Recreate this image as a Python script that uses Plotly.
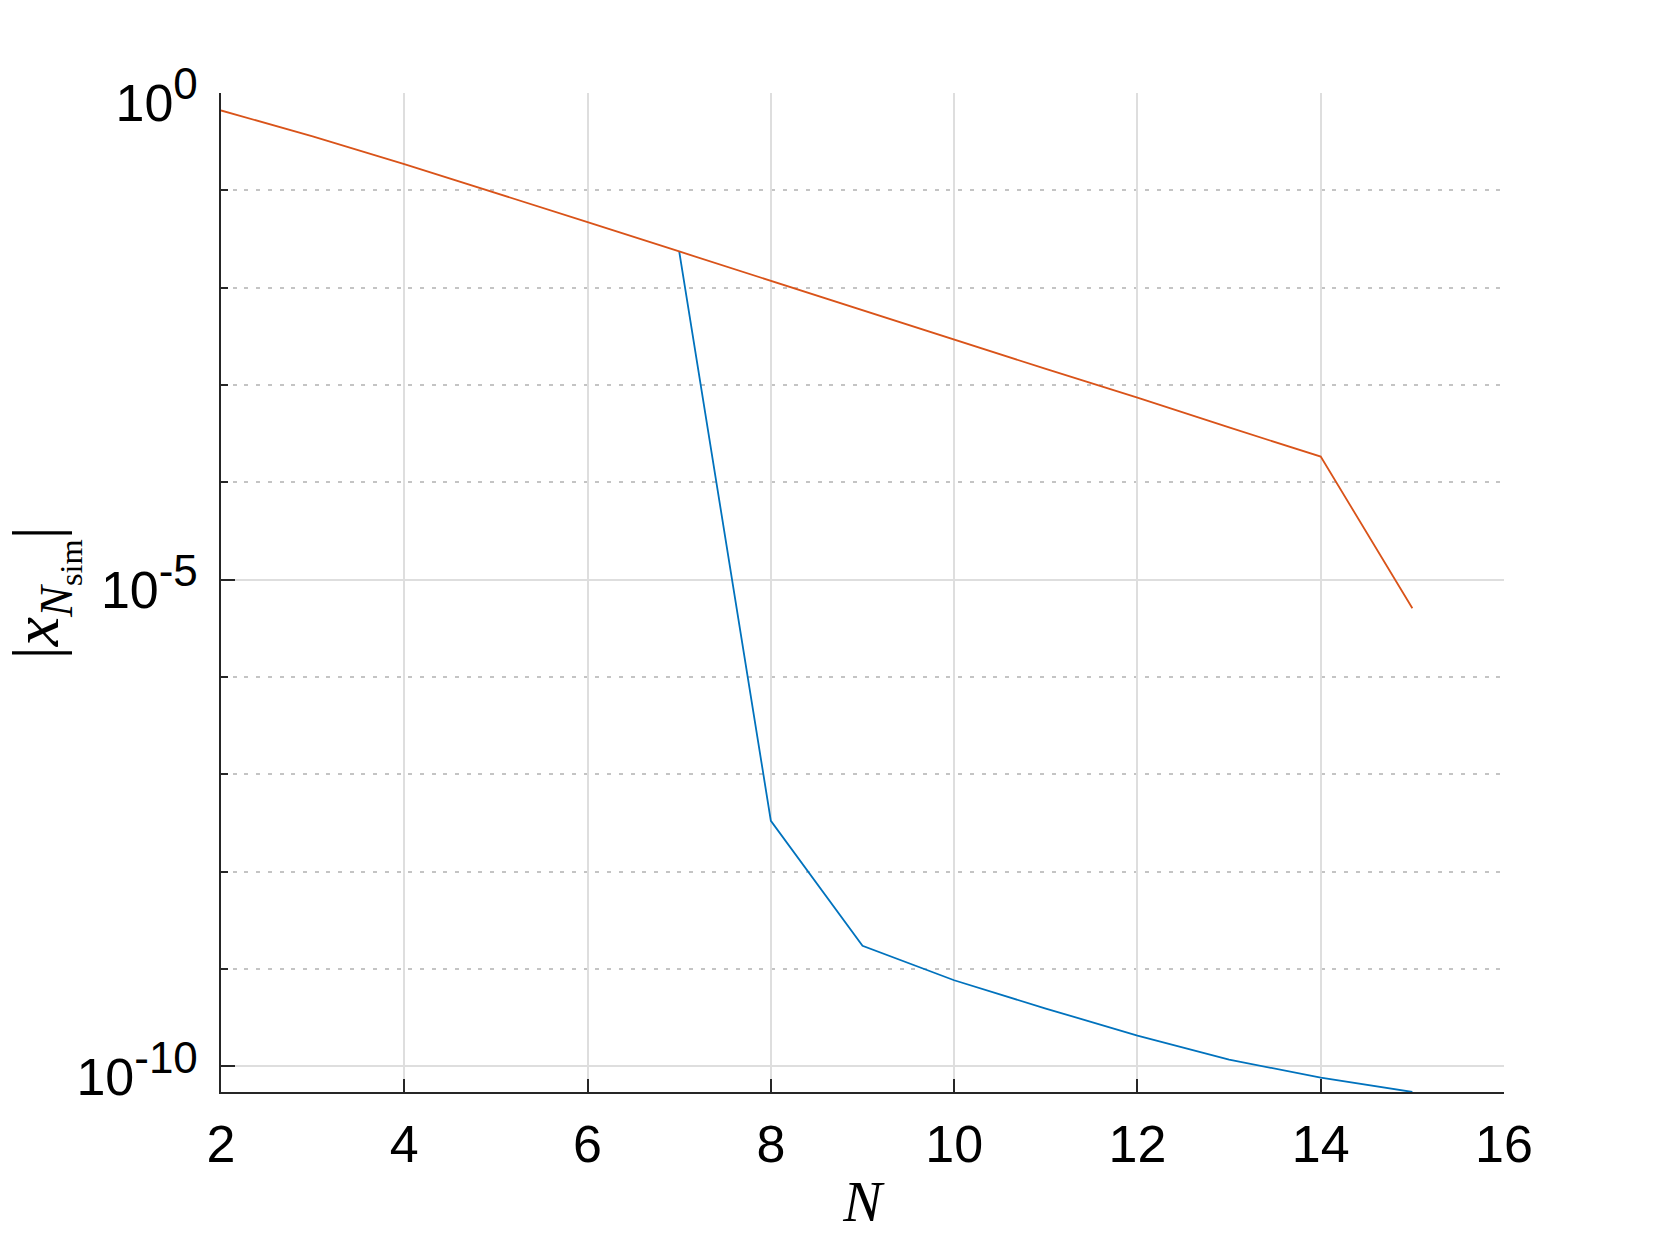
import plotly.graph_objects as go

# values (log axis)
n_orange = [2, 3, 4, 5, 6, 7, 8, 9, 10, 11, 12, 13, 14, 15]
x_orange = [0.662, 0.358, 0.186, 0.0940, 0.0472, 0.02355, 0.01178, 0.00585,
            0.00291, 0.001462, 7.43e-4, 3.66e-4, 1.84e-4, 5.09e-6]

n_blue = [7, 8, 9, 10, 11, 12, 13, 14, 15]
x_blue = [0.02355, 3.33e-8, 1.73e-9, 7.66e-10, 3.92e-10, 2.07e-10,
          1.17e-10, 7.66e-11, 5.45e-11]

x_ticks = [2, 4, 6, 8, 10, 12, 14, 16]
y_ticks = [1, 1e-5, 1e-10]
y_exps = ["0", "-5", "-10"]
y_minor = [1e-1, 1e-2, 1e-3, 1e-4, 1e-6, 1e-7, 1e-8, 1e-9]

AXIS_COLOR = "#262626"
GRID_COLOR = "#dedede"
SERIF = "Liberation Serif, Times New Roman, serif"

y_ticktext = ["10<sup><span style='font-size:44px'>%s</span></sup>" % e for e in y_exps]

fig = go.Figure()
fig.add_trace(go.Scatter(x=n_blue, y=x_blue, mode="lines",
                         line=dict(color="#0072BD", width=1.8)))
fig.add_trace(go.Scatter(x=n_orange, y=x_orange, mode="lines",
                         line=dict(color="#D95319", width=1.8)))

# page body adds an 8px offset, so the figure is sized to fit inside it
fig.update_layout(
    width=1645, height=1230,
    margin=dict(l=213, r=149, t=85, b=146, autoexpand=False),
    paper_bgcolor="white", plot_bgcolor="white",
    showlegend=False,
    font=dict(family="Liberation Sans, Arial, sans-serif", size=52, color="black"),
)

fig.update_xaxes(
    range=[2, 16], tickvals=x_ticks, automargin=False,
    showline=True, linecolor=AXIS_COLOR, linewidth=1.5,
    ticks="inside", ticklen=13, tickwidth=1.5, tickcolor=AXIS_COLOR,
    showgrid=True, gridcolor=GRID_COLOR, gridwidth=1.5,
    zeroline=False,
    ticklabelstandoff=6,
    title=dict(text="<i>N</i>", standoff=8, font=dict(family=SERIF, size=58)),
)

fig.update_yaxes(
    type="log", range=[-10.264, 0], automargin=False,
    tickvals=y_ticks, ticktext=y_ticktext,
    showline=True, linecolor=AXIS_COLOR, linewidth=1.5,
    ticks="inside", ticklen=14, tickwidth=1.5, tickcolor=AXIS_COLOR,
    showgrid=True, gridcolor=GRID_COLOR, gridwidth=1.5,
    zeroline=False,
    ticklabelstandoff=11, ticklabelshift=10,
    minor=dict(tickvals=y_minor, ticks="inside", ticklen=7, tickwidth=1.5,
               tickcolor=AXIS_COLOR, showgrid=True, gridcolor="#c4c4c4",
               gridwidth=1.5, griddash="4px,7.7px"),
)

# y-axis title as a rotated annotation so it can sit near the page edge
fig.add_annotation(
    text="|<i>x</i><sub><i>N</i><sub>sim</sub></sub>|",
    xref="paper", yref="paper", x=-0.138, y=0.5,
    xanchor="center", yanchor="middle", textangle=-90, showarrow=False,
    font=dict(family=SERIF, size=66, color="black"),
)

fig.write_html("out.html")
